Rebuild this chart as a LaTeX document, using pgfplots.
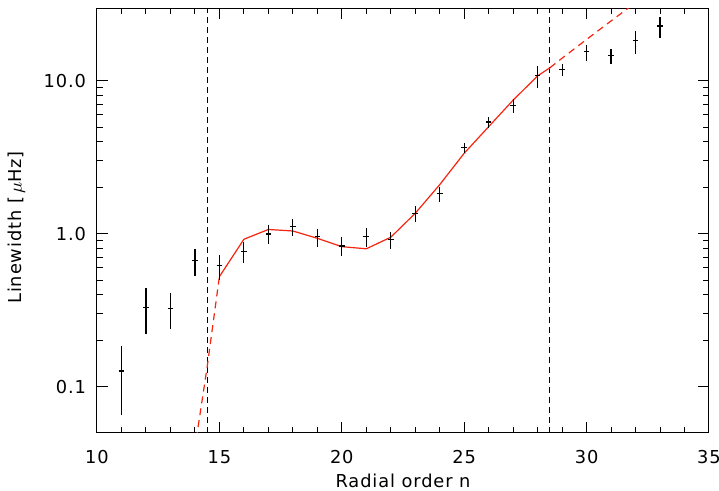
\documentclass[border=0pt]{standalone}
\usepackage{fontspec}
\setmainfont{DejaVu Sans}[LetterSpace=5]
\usepackage{pgfplots}
\usepackage{pgfplotstable}
\pgfplotsset{compat=1.18}
\definecolor{fitred}{RGB}{245,35,15}

\pgfplotstableread{
n   y      lo      hi
11  0.127  0.0656  0.186
12  0.332  0.222   0.442
13  0.327  0.238   0.413
14  0.669  0.534   0.80
15  0.621  0.50    0.729
16  0.766  0.643   0.89
17  1.00   0.856   1.145
18  1.116  0.975   1.25
19  0.96   0.826   1.078
20  0.835  0.718   0.952
21  0.96   0.826   1.09
22  0.923  0.794   1.03
23  1.365  1.20    1.52
24  1.83   1.61    2.04
25  3.66   3.36    3.95
26  5.40   4.93    5.84
27  6.94   6.16    7.62
28  10.8   8.95    12.6
29  11.9   10.8    12.9
30  15.5   13.6    17.3
31  14.6   13.0    16.1
32  18.3   15.1    21.3
33  22.9   19.2    26.2
}\datatable

\pgfplotstableread{
n     y
15    0.526
16    0.923
17    1.07
18    1.046
19    0.937
20    0.826
21    0.800
22    0.952
23    1.365
24    2.10
25    3.37
26    5.03
27    7.5
28    10.8
28.5  12.2
}\fitsolid

\pgfplotstableread{
n     y
28.5  12.2
29    14.1
30    18.7
31    24.7
32    32.5
}\fitdashright

\pgfplotstableread{
n     y
13.9  0.032
14.0  0.040
14.5  0.135
15    0.526
}\fitdashleft

\begin{document}
\begin{tikzpicture}[font=\fontsize{8.9}{10}\selectfont]
\begin{axis}[
  scale only axis,
  width=306pt, height=212.5pt,
  xmin=10, xmax=35,
  ymode=log, ymin=0.05, ymax=30,
  xtick={10,15,20,25,30,35},
  minor x tick num=4,
  ytick={0.1,1,10},
  yticklabels={0.1,1.0,10.0},
  /pgf/number format/assume math mode=true,
  tick align=inside,
  major tick length=5.5pt,
  minor tick length=2.8pt,
  axis line style={line width=0.5pt},
  every tick/.style={black, line width=0.5pt},
  xticklabel style={yshift=-5pt},
  yticklabel style={xshift=-2pt},
  xlabel={Radial order n},
  xlabel style={at={(axis description cs:0.5,0)}, anchor=base, yshift=-27.5pt},
  clip=true,
]
% vertical dashed lines
\addplot[black, line width=0.6pt, dash pattern=on 3pt off 2pt] coordinates {(14.5,0.05) (14.5,30)};
\addplot[black, line width=0.6pt, dash pattern=on 3pt off 2pt] coordinates {(28.5,0.05) (28.5,30)};
% fit
\addplot[fitred, line width=0.6pt] table[x=n,y=y] {\fitsolid};
\addplot[fitred, line width=0.6pt, dash pattern=on 3.5pt off 2.5pt] table[x=n,y=y] {\fitdashright};
\addplot[fitred, line width=0.6pt, dash pattern=on 3.5pt off 2.5pt] table[x=n,y=y] {\fitdashleft};
% data
\addplot[black, only marks, mark=+, mark size=1.4pt, mark options={line width=0.6pt},
  error bars/.cd, y dir=both, y explicit,
  error bar style={line width=0.6pt, black}, error mark=none]
  table[x=n, y=y,
    y error plus expr=\thisrow{hi}-\thisrow{y},
    y error minus expr=\thisrow{y}-\thisrow{lo}] {\datatable};
\end{axis}
\node[rotate=90, anchor=center] at ([xshift=-40.25pt,yshift=-3.5pt]current axis.west) {Linewidth [\,$\mu$Hz]};
\pgfresetboundingbox
\path (current axis.south west) ++(-48.5pt,-29pt) coordinate (bbl);
\path (current axis.north east) ++(5pt,4pt) coordinate (bbr);
\useasboundingbox (bbl) rectangle (bbr);
\end{tikzpicture}
\end{document}
